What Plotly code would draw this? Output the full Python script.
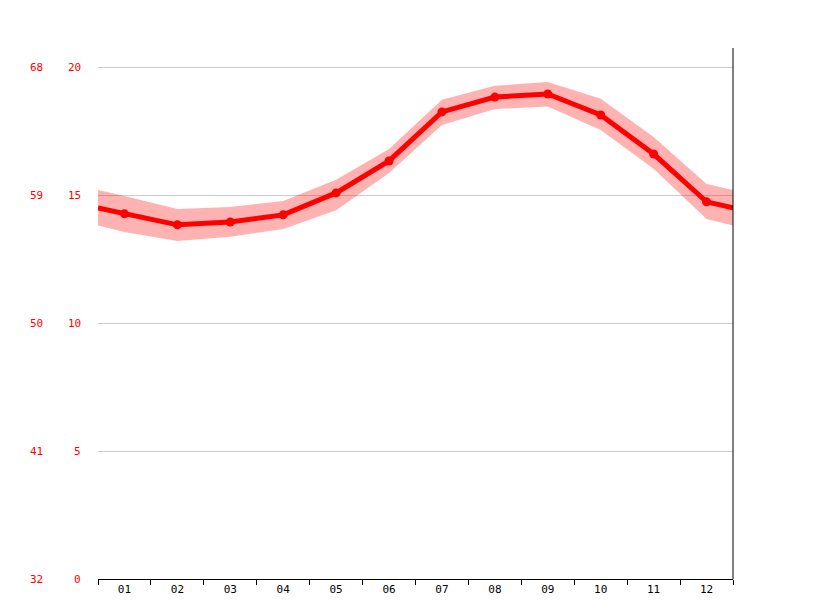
import plotly.graph_objects as go

months = ["01", "02", "03", "04", "05", "06", "07", "08", "09", "10", "11", "12"]
temp_avg = [14.29, 13.86, 13.97, 14.25, 15.11, 16.36, 18.28, 18.86, 18.98, 18.16, 16.63, 14.76]
temp_high = [14.99, 14.48, 14.56, 14.79, 15.62, 16.83, 18.75, 19.30, 19.45, 18.79, 17.30, 15.46]
temp_low = [13.58, 13.23, 13.39, 13.70, 14.43, 15.89, 17.77, 18.39, 18.49, 17.57, 16.05, 14.09]
c_ticks = [0, 5, 10, 15, 20]
f_ticks = ["32", "41", "50", "59", "68"]

# wrap the year around so the line reaches both edges
def wrap(vals):
    edge = (vals[0] + vals[-1]) / 2
    return [edge] + vals + [edge]

xs = [0.5] + list(range(1, 13)) + [12.5]
font = "DejaVu Sans Mono"

fig = go.Figure()
fig.add_trace(go.Scatter(x=xs, y=wrap(temp_low), mode="lines", line=dict(width=0),
                         hoverinfo="skip", showlegend=False))
fig.add_trace(go.Scatter(x=xs, y=wrap(temp_high), mode="lines", line=dict(width=0),
                         fill="tonexty", fillcolor="rgba(255,0,0,0.3)",
                         hoverinfo="skip", showlegend=False))
fig.add_trace(go.Scatter(x=xs, y=wrap(temp_avg), mode="lines", line=dict(color="#ff0000", width=5),
                         showlegend=False))
fig.add_trace(go.Scatter(x=list(range(1, 13)), y=temp_avg, mode="markers",
                         marker=dict(color="#ff0000", size=9), showlegend=False))

ymax = 20.78
annotations = []
for c, f in zip(c_ticks, f_ticks):
    annotations.append(dict(x=-0.024, y=c, xref="paper", yref="y", text=str(c), showarrow=False,
                            xanchor="right", font=dict(color="#ff0000", size=11, family=font)))
    annotations.append(dict(x=-0.083, y=c, xref="paper", yref="y", text=f, showarrow=False,
                            xanchor="right", font=dict(color="#ff0000", size=11, family=font)))
annotations.append(dict(x=-0.024, y=ymax + 1, xref="paper", yref="y", text="°C", showarrow=False,
                        xanchor="right", font=dict(color="#ff0000", size=11, family=font)))
annotations.append(dict(x=-0.083, y=ymax + 1, xref="paper", yref="y", text="°F", showarrow=False,
                        xanchor="right", font=dict(color="#ff0000", size=11, family=font)))

fig.update_layout(
    width=815, height=611,
    margin=dict(l=90, r=90, t=40, b=40),
    plot_bgcolor="white", paper_bgcolor="white",
    xaxis=dict(range=[0.5, 12.5], tickvals=list(range(1, 13)), ticktext=months,
               ticks="", showgrid=False, zeroline=False,
               showline=True, linecolor="black", linewidth=1,
               tickfont=dict(size=11, family=font, color="black"),
               minor=dict(tick0=0.5, dtick=1, ticks="outside", ticklen=5, tickcolor="black", showgrid=False)),
    yaxis=dict(range=[0, ymax], tickvals=c_ticks, showticklabels=False, ticks="",
               showgrid=True, gridcolor="#cccccc", zeroline=False),
    annotations=annotations,
    shapes=[dict(type="line", xref="paper", yref="paper", x0=1, x1=1, y0=0, y1=1,
                 line=dict(color="black", width=1))],
)

fig.write_html("out.html")
